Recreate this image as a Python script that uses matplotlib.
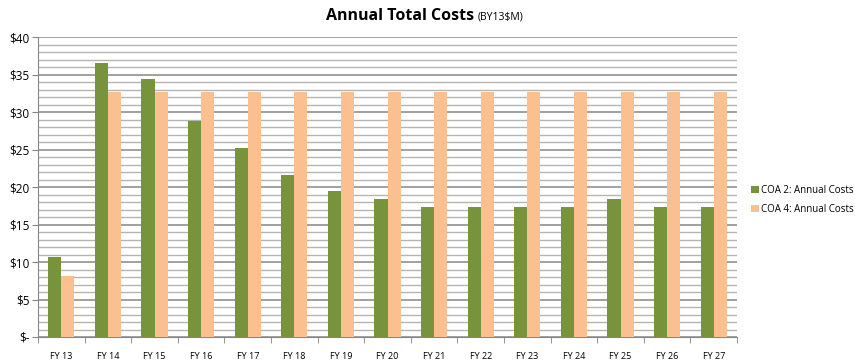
import numpy as np
import matplotlib
matplotlib.use("Agg")
import matplotlib.pyplot as plt
from matplotlib.ticker import MultipleLocator

years = ["FY 13", "FY 14", "FY 15", "FY 16", "FY 17", "FY 18", "FY 19", "FY 20",
         "FY 21", "FY 22", "FY 23", "FY 24", "FY 25", "FY 26", "FY 27"]
coa2 = [10.7, 36.5, 34.4, 28.8, 25.2, 21.6, 19.5, 18.4, 17.3, 17.3, 17.3, 17.3, 18.4, 17.3, 17.3]
coa4 = [8.2, 32.7, 32.7, 32.7, 32.7, 32.7, 32.7, 32.7, 32.7, 32.7, 32.7, 32.7, 32.7, 32.7, 32.7]
yticks = [0, 5, 10, 15, 20, 25, 30, 35, 40]
ylabels = [r"\$-", r"\$5", r"\$10", r"\$15", r"\$20", r"\$25", r"\$30", r"\$35", r"\$40"]

plt.rcParams['font.family'] = ['Open Sans', 'DejaVu Sans']

fig = plt.figure(figsize=(8.55, 3.64), dpi=100)
ax = fig.add_axes([38/855, 27/364, 699/855, 300/364])

x = np.arange(len(years))
w = 0.28
ax.bar(x - w/2, coa2, w, color='#77933C', label='COA 2: Annual Costs', zorder=3)
ax.bar(x + w/2, coa4, w, color='#FAC090', label='COA 4: Annual Costs', zorder=3)

ax.set_xlim(-0.5, len(years) - 0.5)
ax.set_ylim(0, 40)
ax.yaxis.set_minor_locator(MultipleLocator(1))
ax.set_yticks(yticks)
ax.set_yticklabels(ylabels, fontsize=8.5)
ax.grid(which='major', axis='y', color='#868686', lw=1.1, zorder=0)
ax.grid(which='minor', axis='y', color='#B4B4B4', lw=1.0, zorder=0)

ax.set_xticks(x)
ax.set_xticklabels(years, fontsize=6.5)
ax.set_xticks(np.arange(-0.5, len(years), 1), minor=True)
ax.tick_params(axis='x', which='major', length=0, pad=11)
ax.tick_params(axis='x', which='minor', length=4, color='#868686')
ax.tick_params(axis='y', which='major', length=4, color='#868686', pad=2)
ax.tick_params(axis='y', which='minor', length=0)

for s in ['top', 'right']:
    ax.spines[s].set_visible(False)
ax.spines['left'].set_color('#868686')
ax.spines['bottom'].set_color('#868686')

fig.text(474/855, 0.955, "Annual Total Costs", ha='right', va='center', fontsize=11.5,
         fontweight='bold')
fig.text(478/855, 0.952, r"(BY13\$M)", ha='left', va='center', fontsize=7.5)

ax.legend(loc='center left', bbox_to_anchor=(742/855, 164/364), bbox_transform=fig.transFigure,
          frameon=False, fontsize=7, handlelength=0.8, handleheight=0.8, handletextpad=0.3,
          labelspacing=0.8)

fig.savefig("out.png", dpi=100)
